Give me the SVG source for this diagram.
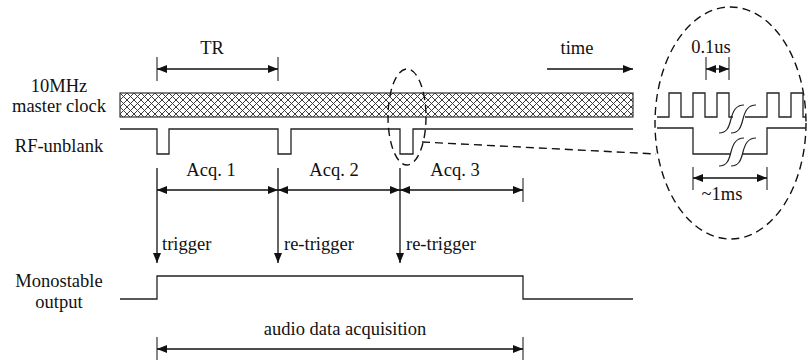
<svg xmlns="http://www.w3.org/2000/svg" width="809" height="362" viewBox="0 0 809 362" font-family="'Liberation Serif', Tinos, 'Times New Roman', Times, serif">
  <style>
    text { font-family: "Liberation Serif", Tinos, "Times New Roman", Times, serif; font-size: 18.5px; fill: #111; }
    .mid { text-anchor: middle; }
    .wave { fill: none; stroke: #222; stroke-width: 1.3; }
    .tick { fill: none; stroke: #555; stroke-width: 1.4; }
    .dim { fill: none; stroke: #111; stroke-width: 1.3; marker-start: url(#head); marker-end: url(#head); }
    .arr { fill: none; stroke: #111; stroke-width: 1.3; marker-end: url(#head); }
    .dash { fill: none; stroke: #111; stroke-width: 1.4; stroke-dasharray: 8 5; }
    .brk { fill: none; stroke: #222; stroke-width: 1.2; }
  </style>
  <defs>
    <marker id="head" viewBox="0 0 10 8" refX="10" refY="4" markerWidth="10" markerHeight="8" markerUnits="userSpaceOnUse" orient="auto-start-reverse">
      <path d="M0,0 L10,4 L0,8 z" fill="#111"/>
    </marker>
    <pattern id="hatch" x="120" y="93" width="7" height="7" patternUnits="userSpaceOnUse">
      <path d="M0,0 L7,7 M7,0 L0,7" stroke="#333" stroke-width="0.95" fill="none"/>
    </pattern>
  </defs>

  <rect width="809" height="362" fill="#fff"/>

  <!-- signal names -->
  <g id="labels">
    <text class="mid" x="59" y="92">10MHz</text>
    <text class="mid" x="59" y="112">master clock</text>
    <text class="mid" x="59" y="152">RF-unblank</text>
    <text class="mid" x="59" y="287">Monostable</text>
    <text class="mid" x="59" y="308">output</text>
  </g>

  <!-- master clock (hatched band) -->
  <g id="clock">
    <rect x="120" y="93" width="513" height="24" fill="url(#hatch)" stroke="#333" stroke-width="1.2"/>
  </g>

  <!-- RF-unblank pulses -->
  <g id="rf-unblank">
    <path class="wave" d="M120,129 H157 V154 H169 V129 H278 V154 H291 V129 H400 V154 H413 V129 H633"/>
  </g>

  <!-- monostable output -->
  <g id="monostable">
    <path class="wave" d="M120,299 H157 V276 H523 V299 H633"/>
  </g>

  <!-- TR period -->
  <g id="tr">
    <text class="mid" x="212" y="54">TR</text>
    <path class="tick" d="M157,57 V81 M278,57 V81"/>
    <path class="dim" d="M157,69 H278"/>
  </g>

  <!-- time direction -->
  <g id="time">
    <text class="mid" x="577" y="54">time</text>
    <path class="arr" d="M547,69 H633"/>
  </g>

  <!-- acquisition windows -->
  <g id="acq">
    <text class="mid" x="211" y="176">Acq. 1</text>
    <text class="mid" x="334" y="176">Acq. 2</text>
    <text class="mid" x="455" y="176">Acq. 3</text>
    <path class="tick" d="M523,178 V202"/>
    <path class="dim" d="M157,190 H278"/>
    <path class="dim" d="M278,190 H400"/>
    <path class="dim" d="M400,190 H523"/>
  </g>

  <!-- trigger events -->
  <g id="connectors">
    <path class="arr" d="M157,168 V263"/>
    <path class="arr" d="M278,168 V263"/>
    <path class="arr" d="M400,168 V263"/>
    <text x="162" y="250">trigger</text>
    <text x="284" y="250">re-trigger</text>
    <text x="406" y="250">re-trigger</text>
  </g>

  <!-- audio data acquisition span -->
  <g id="audio">
    <text class="mid" x="345" y="335">audio data acquisition</text>
    <path class="tick" d="M157,337 V360 M523,337 V360"/>
    <path class="dim" d="M157,349 H523"/>
  </g>

  <!-- zoomed detail -->
  <g id="detail">
    <ellipse class="dash" cx="407" cy="117" rx="19" ry="48"/>
    <path class="dash" d="M422,142 L656,154"/>
    <ellipse class="dash" cx="730.5" cy="123" rx="75.5" ry="116"/>

    <path class="wave" d="M657,117 H669 V93 H681 V117 H693 V93 H705 V117 H717 V93 H729 V117 H733 M745,117 H767 V93 H779 V117 H791 V93 H803 V117 H806"/>
    <path class="brk" d="M719,133 C727,133 729,127 731,119 C733,111 736,105 744,105 M731,133 C739,133 741,127 743,119 C745,111 748,105 756,105"/>

    <path class="wave" d="M657,128 H693 V154 H731 M743,154 H767 V128 H806"/>
    <path class="brk" d="M719,166 C727,166 729,160 731,152 C733,144 736,138 744,138 M731,166 C739,166 741,160 743,152 C745,144 748,138 756,138"/>

    <text class="mid" x="711" y="53">0.1us</text>
    <path class="tick" d="M706,57 V80 M729,57 V80"/>
    <path class="dim" d="M706,69 H729"/>

    <path class="tick" d="M693,167 V190 M767,167 V190"/>
    <path class="dim" d="M693,178 H767"/>
    <text class="mid" x="722" y="200">~1ms</text>
  </g>
</svg>
